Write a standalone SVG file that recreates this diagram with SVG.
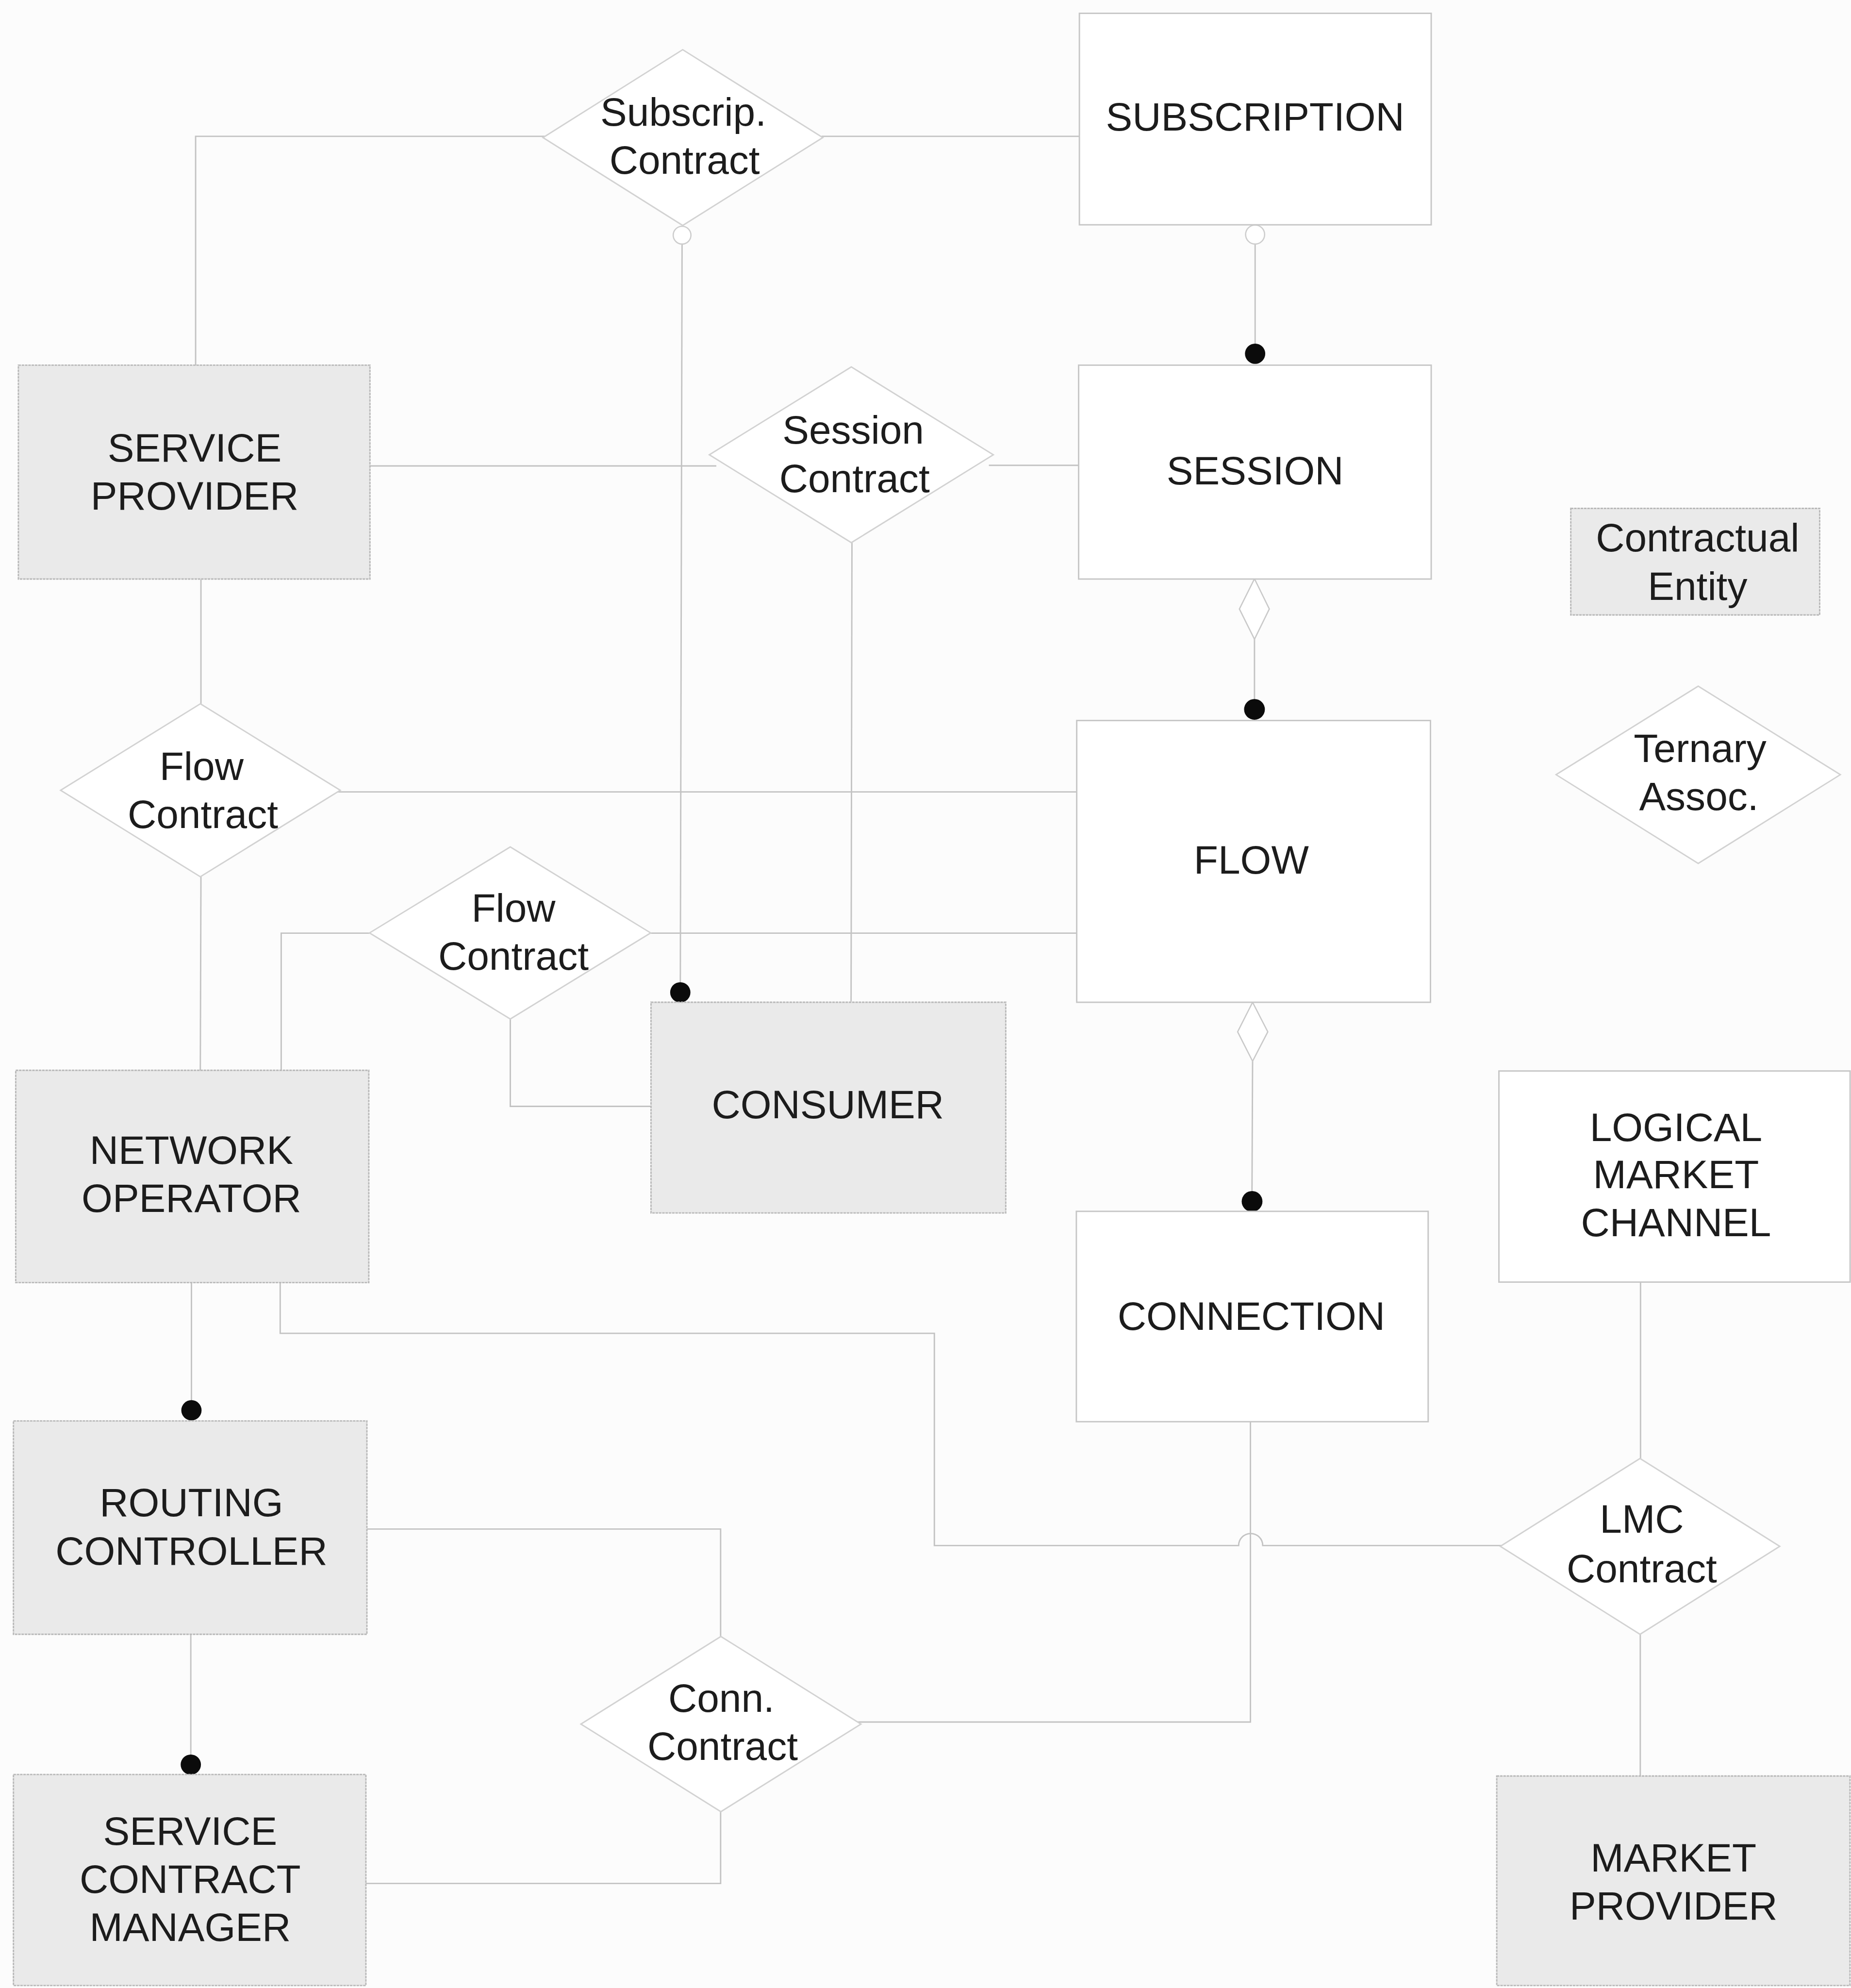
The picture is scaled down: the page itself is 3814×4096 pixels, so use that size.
<svg xmlns="http://www.w3.org/2000/svg" width="3814" height="4096" viewBox="0 0 3814 4096">
  <style>
    .wire { fill: none; stroke: #c3c3c3; stroke-width: 1.1; }
    .ent { fill: #ffffff; stroke: #c6c6c6; stroke-width: 1.1; }
    .ctr { fill: #eaeaea; stroke: #b9b9b9; stroke-width: 1.1; stroke-dasharray: 2 0.6; }
    .rel { fill: #ffffff; stroke: #d2d2d2; stroke-width: 1.1; }
    .agg { fill: #ffffff; stroke: #c9c9c9; stroke-width: 1; }
    .opt { fill: #ffffff; stroke: #cdcdcd; stroke-width: 1; }
    .dot { fill: #0b0b0b; }
    text { font-family: "Liberation Sans", Arial, sans-serif; font-size: 31.4px; fill: #1c1c1c; text-anchor: middle; }
  </style>
  <rect width="3814" height="4096" fill="#fcfcfc"/>
  <!-- drawing units: 1 unit = 2.6123 px -->
  <g transform="scale(2.6123)">
    <g id="connectors">
      <!-- Service Provider - Subscrip. Contract - Subscription -->
      <path class="wire" d="M154.3 289 V107.5 H430"/>
      <path class="wire" d="M648 107.5 H851"/>
      <!-- Subscrip. Contract - Consumer -->
      <path class="wire" d="M538 192.5 L536.6 783"/>
      <circle class="opt" cx="538" cy="185.5" r="7"/>
      <circle class="dot" cx="536.6" cy="782.7" r="8"/>
      <!-- Subscription - Session -->
      <path class="wire" d="M990 192.5 V278"/>
      <circle class="opt" cx="990" cy="185" r="7.5"/>
      <circle class="dot" cx="990" cy="279" r="8"/>
      <!-- Service Provider - Session Contract - Session -->
      <path class="wire" d="M292 367.5 H565"/>
      <path class="wire" d="M780 367 H851"/>
      <!-- Session Contract - Consumer -->
      <path class="wire" d="M672 428 L671.3 790"/>
      <!-- Session - Flow (aggregation) -->
      <path class="wire" d="M989.5 504 V559"/>
      <path class="agg" d="M989.5 456.5 L1001.2 480.3 L989.5 504.2 L977.6 480.3 Z"/>
      <circle class="dot" cx="989.5" cy="559.5" r="8.2"/>
      <!-- Service Provider - Flow Contract - Network Operator / Flow -->
      <path class="wire" d="M158.5 457 V556"/>
      <path class="wire" d="M265 624.6 H850"/>
      <path class="wire" d="M158.5 691 L158 845"/>
      <!-- Flow Contract (2) - Network Operator / Flow / Consumer -->
      <path class="wire" d="M294 736 H221.8 V845"/>
      <path class="wire" d="M510 736 H850"/>
      <path class="wire" d="M402.5 803 V872.6 H514"/>
      <!-- Flow - Connection (aggregation) -->
      <path class="wire" d="M988 837 L987.5 947"/>
      <path class="agg" d="M988 790.5 L1000 813.8 L988 837 L976.2 813.8 Z"/>
      <circle class="dot" cx="987.6" cy="947.6" r="8.2"/>
      <!-- Network Operator - Routing Controller -->
      <path class="wire" d="M151 1012 V1112"/>
      <circle class="dot" cx="151" cy="1112.3" r="8"/>
      <!-- Network Operator - LMC Contract (hops over Connection line) -->
      <path class="wire" d="M221 1012 V1051.6 H737 V1219 H977 A9.5 9.5 0 0 1 996 1219 H1186"/>
      <!-- Connection - Conn. Contract -->
      <path class="wire" d="M986.3 1121 V1358.2 H676"/>
      <!-- Routing Controller - Conn. Contract -->
      <path class="wire" d="M289.5 1206 H568.4 V1291"/>
      <!-- Routing Controller - Service Contract Manager -->
      <path class="wire" d="M150.5 1289 V1391"/>
      <circle class="dot" cx="150.5" cy="1391.8" r="8"/>
      <!-- Conn. Contract - Service Contract Manager -->
      <path class="wire" d="M568.4 1428 V1485.5 H288.5"/>
      <!-- Logical Market Channel - LMC Contract - Market Provider -->
      <path class="wire" d="M1294 1011.5 V1150.5"/>
      <path class="wire" d="M1293.8 1288.5 V1401"/>
    </g>

    <g id="subscription">
      <rect class="ent" x="851.4" y="10.5" width="277.5" height="166.8"/>
      <text x="990" y="103">SUBSCRIPTION</text>
    </g>
    <g id="subscrip-contract">
      <polygon class="rel" points="538.5,39.2 649,108.5 538.5,177.8 428.3,108.5"/>
      <text x="539" y="99">Subscrip.</text>
      <text x="540" y="137">Contract</text>
    </g>
    <g id="service-provider">
      <rect class="ctr" x="14.5" y="288" width="277.3" height="168.7"/>
      <text x="153.5" y="364">SERVICE</text>
      <text x="153.5" y="402">PROVIDER</text>
    </g>
    <g id="session-contract">
      <polygon class="rel" points="671.5,289.4 783.5,358.7 671.5,428 559.5,358.7"/>
      <text x="673" y="350">Session</text>
      <text x="674" y="388">Contract</text>
    </g>
    <g id="session">
      <rect class="ent" x="850.8" y="288" width="278.1" height="168.7"/>
      <text x="990" y="382">SESSION</text>
    </g>
    <g id="contractual-entity">
      <rect class="ctr" x="1239" y="401" width="196.3" height="84"/>
      <text x="1339" y="435">Contractual</text>
      <text x="1339" y="473">Entity</text>
    </g>
    <g id="ternary-assoc">
      <polygon class="rel" points="1339.5,541.2 1451.6,611 1339.5,681 1227.4,611"/>
      <text x="1341" y="601">Ternary</text>
      <text x="1340" y="639">Assoc.</text>
    </g>
    <g id="flow-contract-1">
      <polygon class="rel" points="158,555.1 268.4,623.3 158,691.5 47.8,623.3"/>
      <text x="159" y="615">Flow</text>
      <text x="160" y="653">Contract</text>
    </g>
    <g id="flow">
      <rect class="ent" x="849.3" y="568.3" width="279" height="222.2"/>
      <text x="987" y="689">FLOW</text>
    </g>
    <g id="flow-contract-2">
      <polygon class="rel" points="402.5,668 513.2,735.8 402.5,803.7 291.5,735.8"/>
      <text x="405" y="727">Flow</text>
      <text x="405" y="765">Contract</text>
    </g>
    <g id="consumer">
      <rect class="ctr" x="513.5" y="790.5" width="279.8" height="166.2"/>
      <text x="653" y="882">CONSUMER</text>
    </g>
    <g id="network-operator">
      <rect class="ctr" x="12.4" y="844.2" width="278.5" height="167.4"/>
      <text x="151" y="918">NETWORK</text>
      <text x="151" y="956">OPERATOR</text>
    </g>
    <g id="logical-market-channel">
      <rect class="ent" x="1182.3" y="844.7" width="277" height="166.5"/>
      <text x="1322" y="900">LOGICAL</text>
      <text x="1322" y="937">MARKET</text>
      <text x="1322" y="975">CHANNEL</text>
    </g>
    <g id="connection">
      <rect class="ent" x="849" y="955.4" width="277.5" height="165.9"/>
      <text x="987" y="1049">CONNECTION</text>
    </g>
    <g id="routing-controller">
      <rect class="ctr" x="10.6" y="1120.7" width="278.8" height="168.3"/>
      <text x="151" y="1196">ROUTING</text>
      <text x="151" y="1234">CONTROLLER</text>
    </g>
    <g id="lmc-contract">
      <polygon class="rel" points="1293.6,1150.3 1403.8,1219.6 1293.6,1289 1183.4,1219.6"/>
      <text x="1295" y="1209">LMC</text>
      <text x="1295" y="1248">Contract</text>
    </g>
    <g id="conn-contract">
      <polygon class="rel" points="568.6,1290.7 679.1,1359.8 568.6,1428.9 458.2,1359.8"/>
      <text x="569" y="1350">Conn.</text>
      <text x="570" y="1388">Contract</text>
    </g>
    <g id="service-contract-manager">
      <rect class="ctr" x="10.6" y="1399.6" width="278" height="166.4"/>
      <text x="150" y="1455">SERVICE</text>
      <text x="150" y="1493">CONTRACT</text>
      <text x="150" y="1531">MANAGER</text>
    </g>
    <g id="market-provider">
      <rect class="ctr" x="1180.6" y="1400.8" width="278.6" height="165.2"/>
      <text x="1320" y="1476">MARKET</text>
      <text x="1320" y="1514">PROVIDER</text>
    </g>
  </g>
</svg>
